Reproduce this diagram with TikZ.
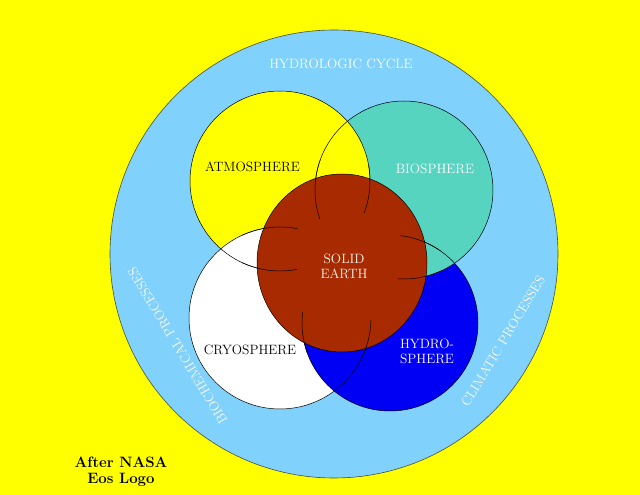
\documentclass[tikz,border=0pt]{standalone}
\usepackage{fontspec}
\usepackage{pdfrender}
\definecolor{bgyellow}{RGB}{255,255,0}
\definecolor{skyblue}{RGB}{128,210,252}
\definecolor{bioteal}{RGB}{86,212,192}
\definecolor{hblue}{RGB}{0,0,245}
\definecolor{earthbrown}{RGB}{168,42,0}
\definecolor{rimgray}{RGB}{70,80,60}
\definecolor{paletext}{RGB}{250,248,240}
\begin{document}
\begin{tikzpicture}[x=1pt,y=1pt,
  lbl/.style={inner sep=0pt, align=center, font={\fontsize{13.5}{15}\selectfont\pdfrender{TextRenderingMode=FillStroke,LineWidth=0.35}}},
  ring/.style={draw=black, line width=0.5pt},
  part/.style={draw=black, line width=0.5pt}]
\useasboundingbox (0,0) rectangle (640,495);
\fill[bgyellow] (0,0) rectangle (640,495);
% centres
\coordinate (outer) at (334,241);
\coordinate (atm) at (280,314);
\coordinate (bio) at (404,305);
\coordinate (cryo) at (280,177);
\coordinate (hydro) at (390,172);
\coordinate (earth) at (342,232);
% outer ring
\filldraw[fill=skyblue, draw=rimgray, line width=0.6pt] (outer) circle[radius=224];
% sphere fills
\fill[bioteal] (bio) circle[radius=89];
\fill[bgyellow] (atm) circle[radius=90];
\fill[white] (cryo) circle[radius=91];
\fill[hblue] (hydro) circle[radius=88];
\begin{scope}
  \clip (bio) circle[radius=89];
  \fill[bioteal] (hydro) circle[radius=88];
\end{scope}
% sphere outlines
\draw[ring] (bio) circle[radius=89];
\draw[ring] (atm) circle[radius=90];
\draw[ring] (cryo) circle[radius=91];
\draw[ring] (hydro) circle[radius=88];
% solid earth
\filldraw[fill=earthbrown, draw=black, line width=0.5pt] (earth) ellipse[x radius=85, y radius=89];
% partial arcs inside the solid earth
\draw[part] (bio) ++(160:89) arc[start angle=160, end angle=199, radius=89];
\draw[part] (atm) ++(10:90) arc[start angle=10, end angle=-21, radius=90];
\draw[part] (cryo) ++(115:91) arc[start angle=115, end angle=79, radius=91];
\draw[part] (atm) ++(-115:90) arc[start angle=-115, end angle=-79, radius=90];
\draw[part] (hydro) ++(55:88) arc[start angle=55, end angle=83.5, radius=88];
\draw[part] (bio) ++(-65:89) arc[start angle=-65, end angle=-94, radius=89];
\draw[part] (hydro) ++(200:88) arc[start angle=200, end angle=173, radius=88];
\draw[part] (cryo) ++(-25:91) arc[start angle=-25, end angle=-1, radius=91];
% labels
\node[lbl, text=white] (hydrocycle) at (341,431) {HYDROLOGIC CYCLE};
\node[lbl, text=black] (atmlabel) at (252.5,328.3) {ATMOSPHERE};
\node[lbl, text=white] (biolabel) at (435,326) {BIOSPHERE};
\node[lbl, text=paletext] (earthlabel) at (344,228.5) {SOLID\\EARTH};
\node[lbl, text=black] (cryolabel) at (250,145) {CRYOSPHERE};
\node[lbl, text=white] (hydrolabel) at (427,143.5) {HYDRO-\\SPHERE};
\node[lbl, text=paletext, rotate=121] (biochem) at (177.5,149) {BIOCHEMICAL PROCESSES};
\node[lbl, text=paletext, rotate=59] (climatic) at (503,154) {CLIMATIC PROCESSES};
\node[inner sep=0pt, align=center, font=\fontsize{15}{16}\selectfont\bfseries] (credit) at (121,23.5) {After NASA\\Eos Logo};
\end{tikzpicture}
\end{document}
